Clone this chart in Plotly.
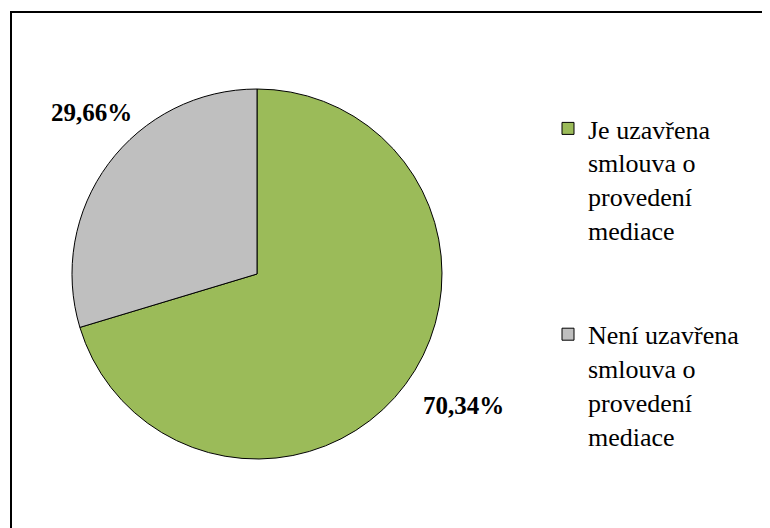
import plotly.graph_objects as go

# data
labels = ['Je uzavřena smlouva o provedení mediace',
          'Není uzavřena smlouva o provedení mediace']
legend_names = ['Je uzavřena<br>smlouva o<br>provedení<br>mediace<br> <br> ',
                'Není uzavřena<br>smlouva o<br>provedení<br>mediace']
values = [70.34, 29.66]
colors = ['#9BBB59', '#BFBFBF']

W, H = 770, 528
SERIF = 'Liberation Serif, Times New Roman, serif'

def fmt(v):
    return ('%.2f' % v).replace('.', ',') + '%'

fig = go.Figure()
fig.add_trace(go.Pie(
    labels=legend_names,
    values=values,
    sort=False,
    direction='clockwise',
    rotation=0,
    textinfo='none',
    hoverinfo='skip',
    marker=dict(colors=colors, line=dict(color='black', width=1)),
    domain=dict(x=[64/W, 434/W], y=[1-451/H, 1-81/H]),
))

# data labels placed outside the slices
label_pos = [(455/W, 1-397/H), (83/W, 1-104/H)]
for v, (px_, py_) in zip(values, label_pos):
    fig.add_annotation(x=px_, y=py_, xref='paper', yref='paper', xanchor='center', yanchor='middle',
                       text='<b>' + fmt(v) + '</b>', showarrow=False,
                       font=dict(size=25, color='black', family=SERIF))

# chart border
fig.add_shape(type='rect', xref='paper', yref='paper', x0=3/W, x1=1.05, y0=-0.05, y1=1-4/H,
              line=dict(color='black', width=2))

fig.update_layout(
    width=W, height=H,
    margin=dict(l=0, r=0, t=0, b=0),
    paper_bgcolor='white',
    plot_bgcolor='white',
    font=dict(family=SERIF, size=26, color='black'),
    legend=dict(x=540/W, y=1-97/H, xanchor='left', yanchor='top', valign='top',
                itemwidth=30, font=dict(size=26, family=SERIF), bgcolor='rgba(0,0,0,0)'),
    showlegend=True,
)

fig.write_html("out.html")
